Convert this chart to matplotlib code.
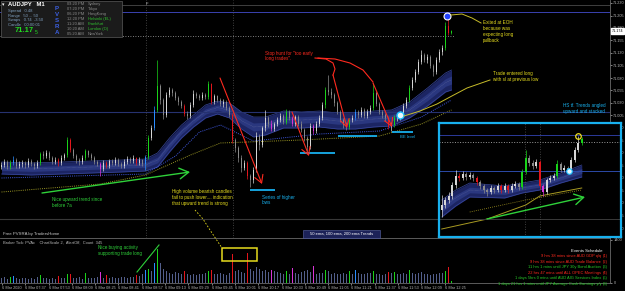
import numpy as np
import matplotlib
matplotlib.use("Agg")
import matplotlib.pyplot as plt
from matplotlib.patches import Rectangle

plt.rcParams["font.family"] = ["Liberation Sans", "DejaVu Sans"]

# ---------------------------------------------------------
# data (AUDJPY, 2-min candles)
# ---------------------------------------------------------
first_open = 70.902
close = [
    70.906, 70.912, 70.902, 70.910, 70.916, 70.904, 70.908, 70.910, 70.906, 70.914,
    70.908, 70.904, 70.910, 70.928, 70.924, 70.930, 70.920, 70.912, 70.916, 70.910,
    70.920, 70.926, 70.956, 70.936, 70.924, 70.916, 70.912, 70.920, 70.934, 70.926,
    70.920, 70.912, 70.908, 70.898, 70.910, 70.904, 70.914, 70.910, 70.916, 70.908,
    70.904, 70.912, 70.918, 70.914, 70.920, 70.910, 70.916, 70.908, 70.922, 70.960,
    70.980, 71.016, 71.064, 71.036, 71.006, 71.046, 71.056, 71.050, 71.040, 71.032,
    71.024, 71.008, 71.004, 71.026, 71.048, 71.044, 71.040, 71.046, 71.042, 71.068,
    71.032, 71.044, 71.036, 71.028, 71.032, 71.020, 71.006, 70.956, 70.940, 70.920,
    70.900, 70.910, 70.884, 70.876, 70.896, 70.964, 70.946, 70.980, 71.000, 70.988,
    70.978, 70.988, 70.996, 71.004, 70.992, 71.012, 71.000, 70.988, 71.002, 70.988,
    70.976, 70.960, 70.942, 70.984, 70.974, 70.988, 71.000, 71.026, 71.056, 71.052,
    71.046, 71.030, 71.012, 70.996, 70.986, 70.982, 70.996, 71.000, 71.012, 71.006,
    71.016, 71.004, 71.012, 71.020, 71.050, 71.028, 71.012, 71.006, 71.000, 70.982,
    70.986, 71.000, 71.000, 71.008, 71.024, 71.036, 71.060, 71.076, 71.092, 71.112,
    71.126, 71.116, 71.122, 71.104, 71.092, 71.116, 71.132, 71.140, 71.184, 71.170,
    71.174,
]
high = [
    70.912, 70.918, 70.916, 70.916, 70.924, 70.920, 70.914, 70.916, 70.914, 70.920,
    70.918, 70.912, 70.916, 70.932, 70.934, 70.936, 70.934, 70.924, 70.922, 70.920,
    70.926, 70.930, 70.962, 70.960, 70.940, 70.928, 70.920, 70.926, 70.938, 70.936,
    70.930, 70.924, 70.916, 70.912, 70.916, 70.914, 70.918, 70.918, 70.922, 70.920,
    70.912, 70.918, 70.924, 70.922, 70.926, 70.922, 70.922, 70.918, 70.926, 70.966,
    70.986, 71.024, 71.116, 71.068, 71.040, 71.052, 71.062, 71.060, 71.054, 71.044,
    71.036, 71.028, 71.014, 71.032, 71.056, 71.052, 71.048, 71.052, 71.050, 71.074,
    71.070, 71.048, 71.046, 71.040, 71.038, 71.036, 71.024, 71.010, 70.960, 70.944,
    70.926, 70.916, 70.914, 70.888, 70.902, 70.972, 70.968, 70.984, 71.016, 71.004,
    70.996, 70.992, 71.002, 71.010, 71.008, 71.018, 71.016, 71.004, 71.006, 71.006,
    70.994, 70.980, 70.964, 70.990, 70.988, 70.994, 71.006, 71.032, 71.062, 71.086,
    71.060, 71.050, 71.034, 71.016, 71.000, 70.992, 71.000, 71.006, 71.018, 71.016,
    71.022, 71.020, 71.018, 71.026, 71.070, 71.054, 71.032, 71.016, 71.010, 71.004,
    70.992, 71.006, 71.006, 71.014, 71.030, 71.042, 71.066, 71.082, 71.098, 71.118,
    71.136, 71.130, 71.128, 71.126, 71.108, 71.122, 71.138, 71.146, 71.192, 71.206,
    71.176,
]
low = [
    70.898, 70.902, 70.898, 70.898, 70.906, 70.900, 70.900, 70.902, 70.900, 70.902,
    70.904, 70.898, 70.900, 70.906, 70.918, 70.920, 70.916, 70.908, 70.908, 70.904,
    70.906, 70.916, 70.922, 70.932, 70.920, 70.910, 70.906, 70.908, 70.916, 70.922,
    70.916, 70.908, 70.904, 70.884, 70.894, 70.900, 70.900, 70.906, 70.906, 70.904,
    70.900, 70.900, 70.908, 70.910, 70.910, 70.906, 70.906, 70.904, 70.896, 70.918,
    70.956, 70.976, 71.012, 71.028, 70.998, 71.002, 71.042, 71.044, 71.036, 71.026,
    71.020, 71.004, 70.998, 71.000, 71.022, 71.040, 71.036, 71.036, 71.038, 71.038,
    71.028, 71.028, 71.032, 71.024, 71.022, 71.016, 71.002, 70.950, 70.932, 70.912,
    70.892, 70.896, 70.878, 70.862, 70.870, 70.892, 70.936, 70.942, 70.974, 70.982,
    70.974, 70.974, 70.984, 70.992, 70.988, 70.988, 70.996, 70.984, 70.984, 70.984,
    70.972, 70.954, 70.934, 70.938, 70.968, 70.970, 70.984, 70.996, 71.020, 71.046,
    71.040, 71.024, 71.008, 70.992, 70.980, 70.976, 70.978, 70.992, 70.996, 71.000,
    71.002, 71.000, 71.000, 71.008, 71.016, 71.024, 71.008, 71.000, 70.994, 70.978,
    70.974, 70.982, 70.994, 70.996, 71.004, 71.020, 71.032, 71.056, 71.072, 71.088,
    71.108, 71.112, 71.110, 71.100, 71.084, 71.088, 71.112, 71.126, 71.136, 71.166,
    71.168,
]
volume = [
    150, 180, 130, 200, 220, 160, 140, 170, 150, 120,
    160, 140, 180, 260, 150, 170, 140, 160, 130, 240,
    170, 150, 300, 280, 160, 150, 180, 140, 320, 170,
    150, 160, 190, 350, 170, 260, 160, 180, 150, 170,
    200, 180, 160, 190, 210, 270, 240, 300, 420, 470,
    380, 650, 1100, 640, 460, 380, 330, 300, 350, 320,
    280, 400, 300, 270, 300, 260, 300, 280, 320, 380,
    420, 300, 280, 320, 300, 260, 340, 950, 380, 420,
    360, 340, 980, 460, 400, 520, 440, 380, 420, 350,
    420, 380, 360, 330, 300, 400, 300, 480, 320, 280,
    350, 380, 420, 360, 560, 280, 320, 340, 420, 380,
    300, 320, 280, 300, 330, 290, 400, 300, 430, 320,
    300, 280, 310, 340, 400, 300, 280, 260, 300, 360,
    340, 350, 300, 280, 320, 300, 420, 340, 300, 320,
    360, 280, 300, 260, 300, 280, 320, 340, 380, 520,
    60,
]
# PVSRA classes: g/r climax bull/bear, b/m rising volume bull/bear
pvsra = {3: "g", 4: "b", 13: "g", 19: "r", 22: "g", 23: "r", 28: "g", 33: "m",
         35: "r", 45: "r", 48: "b", 49: "g", 51: "b", 52: "g", 61: "r", 69: "g",
         70: "r", 77: "r", 82: "r", 90: "m", 95: "g", 97: "m", 104: "m", 108: "g",
         116: "g", 118: "b", 124: "g", 129: "r", 131: "g", 136: "g", 148: "g",
         149: "r", 150: "g"}

band_idx = [0, 10, 20, 30, 40, 48, 52, 56, 60, 64, 68, 72, 76, 80, 84, 88, 94,
            100, 106, 112, 118, 124, 130, 136, 142, 148, 150]
band_top = [70.912, 70.910, 70.912, 70.914, 70.916, 70.918, 70.930, 70.960, 70.986,
            71.006, 71.026, 71.034, 71.030, 71.012, 71.002, 71.002, 71.014, 71.012,
            71.014, 71.010, 71.010, 71.014, 71.016, 71.032, 71.060, 71.090, 71.096]
band_bot = [70.888, 70.886, 70.888, 70.890, 70.892, 70.894, 70.902, 70.932, 70.960,
            70.982, 71.000, 71.008, 71.000, 70.978, 70.962, 70.966, 70.980, 70.980,
            70.982, 70.978, 70.978, 70.982, 70.984, 71.000, 71.024, 71.052, 71.056]
ema100_idx = [0, 48, 58, 66, 73, 84, 106, 126, 140, 150]
ema100 = [70.880, 70.888, 70.924, 70.972, 70.986, 70.954, 70.968, 70.974, 71.002, 71.036]
ema200_idx = [0, 33, 48, 63, 73, 100, 126, 140, 150]
ema200 = [70.852, 70.868, 70.886, 70.926, 70.950, 70.956, 70.964, 70.988, 71.016]

last_price = 71.174
lvl_top, lvl_eoh, lvl_prev_high, lvl_mid, lvl_low = 71.226, 71.212, 71.164, 71.012, 70.798
separators = [48.2, 77.2]

time_labels = ["6 Mar 2020", "6 Mar 07:37", "6 Mar 07:53", "6 Mar 08:09", "6 Mar 08:25",
               "6 Mar 08:41", "6 Mar 08:57", "6 Mar 09:13", "6 Mar 09:29", "6 Mar 09:45",
               "6 Mar 10:01", "6 Mar 10:17", "6 Mar 10:33", "6 Mar 10:49", "6 Mar 11:05",
               "6 Mar 11:21", "6 Mar 11:37", "6 Mar 11:53", "6 Mar 12:09", "6 Mar 12:25"]

# higher timeframe inset
inset_open0 = 70.816
inset_close = [70.826, 70.836, 70.844, 70.866, 70.884, 70.880, 70.888, 70.882, 70.886, 70.880,
               70.872, 70.864, 70.856, 70.852, 70.860, 70.856, 70.864, 70.856, 70.864, 70.856,
               70.864, 70.868, 70.862, 70.892, 70.920, 70.910, 70.904, 70.912, 70.864, 70.852,
               70.876, 70.880, 70.884, 70.908, 70.896, 70.900, 70.896, 70.916, 70.936, 70.950,
               70.958]
inset_high = [70.846, 70.842, 70.852, 70.872, 70.896, 70.890, 70.894, 70.892, 70.892, 70.890,
              70.884, 70.876, 70.868, 70.860, 70.866, 70.864, 70.870, 70.868, 70.870, 70.868,
              70.870, 70.874, 70.872, 70.898, 70.936, 70.926, 70.916, 70.918, 70.916, 70.868,
              70.880, 70.886, 70.890, 70.916, 70.912, 70.906, 70.904, 70.922, 70.942, 70.964,
              70.962]
inset_low = [70.802, 70.820, 70.830, 70.838, 70.860, 70.874, 70.876, 70.876, 70.878, 70.874,
             70.866, 70.858, 70.850, 70.844, 70.848, 70.850, 70.852, 70.850, 70.852, 70.850,
             70.852, 70.860, 70.856, 70.858, 70.888, 70.904, 70.898, 70.900, 70.858, 70.844,
             70.848, 70.872, 70.876, 70.880, 70.892, 70.892, 70.890, 70.892, 70.912, 70.932,
             70.946]
inset_pvsra = {5: "r", 10: "r", 17: "r", 19: "r", 23: "g", 24: "g", 28: "r", 29: "m",
               33: "g", 40: "g"}
inset_band_idx = [0, 4, 8, 18, 23, 28, 34, 40]
inset_band_top = [70.836, 70.856, 70.870, 70.864, 70.870, 70.876, 70.890, 70.906]
inset_band_bot = [70.802, 70.824, 70.842, 70.840, 70.850, 70.856, 70.870, 70.882]
inset_ema_idx = [0, 13, 24, 28, 40]
inset_ema = [70.778, 70.798, 70.826, 70.844, 70.860]
inset_ema2_idx = [8, 24, 40]
inset_ema2 = [70.812, 70.836, 70.856]
inset_levels = [(70.966, "#2c3a9a", "-"), (70.952, "#9a9a9a", ":"),
                (70.894, "#2c4aa8", "-"), (70.798, "#3a3a3a", "-")]

# ---------------------------------------------------------
# colours
# ---------------------------------------------------------
PV = {"g": "#19d219", "r": "#e3161c", "b": "#2a8cff", "m": "#d834d8"}
UP, DOWN, VOL = "#d6d6d6", "#8a8a8a", "#535f8c"
GREEN, RED, YEL, CYAN = "#2fd13a", "#ff2a1f", "#e6dc1e", "#18b0ee"

W, H = 625, 291


def box(x0, y0, x1, y1):
    return [x0 / W, 1 - y1 / H, (x1 - x0) / W, (y1 - y0) / H]


def draw_candles(ax, o, c, h, l, classes, width):
    idx = np.arange(len(c))
    cols = []
    for i in idx:
        if i in classes:
            cols.append(PV[classes[i]])
        else:
            cols.append(UP if c[i] >= o[i] else DOWN)
    ax.vlines(idx, l, h, colors=cols, lw=0.5, zorder=4)
    ax.bar(idx, np.maximum(np.abs(c - o), 0.0015), bottom=np.minimum(o, c),
           width=width, color=cols, linewidth=0, zorder=4)
    return cols


def draw_band(ax, bi, bt, bb):
    bi, bt, bb = np.array(bi), np.array(bt), np.array(bb)
    mid = (bt + bb) / 2
    ax.fill_between(bi, bb, bt, color="#1c2563", lw=0, zorder=2)
    ax.fill_between(bi, mid - (bt - bb) * 0.2, mid + (bt - bb) * 0.2,
                    color="#2a377f", lw=0, zorder=2)
    ax.plot(bi, bt, color="#38479c", lw=0.5, zorder=2)
    ax.plot(bi, bb, color="#38479c", lw=0.5, zorder=2)
    ax.plot(bi, mid, color="#6e76a4", lw=0.35, ls=(0, (1, 1.5)), zorder=2)


fig = plt.figure(figsize=(6.25, 2.91), dpi=100, facecolor="black")

# ---------------- price panel ----------------
ax = fig.add_axes(box(0, 0, 610, 238), zorder=1)
ax.set_facecolor("black")
c = np.array(close)
o = np.concatenate([[first_open], c[:-1]])
cols = draw_candles(ax, o, c, np.array(high), np.array(low), pvsra, 0.62)
draw_band(ax, band_idx, band_top, band_bot)
ax.plot(ema100_idx, ema100, color="#3f58e0", lw=0.7, ls=(0, (1, 1.2)), zorder=2)
ax.plot(ema200_idx, ema200, color="#9a9624", lw=0.7, ls=(0, (1, 1.2)), zorder=2)

ax.axhline(lvl_top, color="#4a4a4a", lw=0.6)
ax.axhline(lvl_eoh, color="#3a42b0", lw=0.7)
ax.axhline(lvl_prev_high, xmax=455 / 610, color="#a8a8a8", lw=0.6, ls=(0, (1, 2)))
ax.axhline(lvl_mid, color="#263270", lw=0.8)
ax.axhline(lvl_low, color="#383838", lw=0.8)
for s in separators:
    ax.axvline(s, color="#555555", lw=0.6, ls=(0, (1, 2)))

ax.set_xlim(-0.5, 610 / 3 - 0.5)
ax.set_ylim(70.760, 71.236)
ax.set_xticks([])
ax.yaxis.tick_right()
ticks = [71.230 - 0.025 * k for k in range(19)]
ax.set_yticks(ticks)
ax.set_yticklabels([f"{t:.3f}" for t in ticks])
ax.tick_params(axis="y", colors="#b8b8b8", labelsize=2.7, length=1.5, width=0.5, pad=0.8)
for side in ["left", "top"]:
    ax.spines[side].set_visible(False)
for side in ["right", "bottom"]:
    ax.spines[side].set_color("#6a6a6a")
    ax.spines[side].set_linewidth(0.6)
ax.text(1.003, last_price, f"{last_price:.3f}", transform=ax.get_yaxis_transform(),
        fontsize=2.7, color="black", va="center", ha="left", clip_on=False,
        bbox=dict(boxstyle="square,pad=0.15", fc="white", ec="white"))

# ---------------- volume panel ----------------
axv = fig.add_axes(box(0, 239, 610, 283), zorder=1)
axv.set_facecolor("black")
vcols = [PV[pvsra[i]] if i in pvsra else VOL for i in range(len(volume))]
axv.bar(np.arange(len(volume)), volume, width=0.55, color=vcols, linewidth=0)
axv.set_xlim(-0.5, 610 / 3 - 0.5)
axv.set_ylim(0, 1430)
axv.yaxis.tick_right()
axv.set_yticks([0, 1400])
axv.set_yticklabels(["0", "1400"])
tick_pos = [(2 + 23.3 * k - 1.5) / 3 for k in range(len(time_labels))]
axv.set_xticks(tick_pos)
axv.set_xticklabels(time_labels)
for lab in axv.get_xticklabels():
    lab.set_ha("left")
axv.tick_params(colors="#b0b0b0", labelsize=2.8, length=1.5, width=0.5, pad=1)
for side in ["left", "top"]:
    axv.spines[side].set_visible(False)
for side in ["right", "bottom"]:
    axv.spines[side].set_color("#6a6a6a")
    axv.spines[side].set_linewidth(0.6)

# ---------------- higher timeframe inset ----------------
axi = fig.add_axes(box(439, 123, 621, 237), zorder=3)
axi.set_facecolor("black")
ic = np.array(inset_close)
io = np.concatenate([[inset_open0], ic[:-1]])
draw_band(axi, inset_band_idx, inset_band_top, inset_band_bot)
draw_candles(axi, io, ic, np.array(inset_high), np.array(inset_low), inset_pvsra, 0.6)
axi.plot(inset_ema_idx, inset_ema, color="#a89a22", lw=0.7, zorder=2)
axi.plot(inset_ema2_idx, inset_ema2, color="#a89a22", lw=0.6, ls=(0, (1, 1.5)), zorder=2)
for lv, col, ls in inset_levels:
    axi.axhline(lv, color=col, lw=0.7, ls=ls)
for s in [23.8, 28.1]:
    axi.axvline(s, color="#505050", lw=0.6, ls=(0, (1, 2)))
axi.set_xlim(-0.786, 182 / 3.5 - 0.786)
axi.set_ylim(70.762, 70.990)
axi.set_xticks([])
axi.set_yticks([])
for sp in axi.spines.values():
    sp.set_color(CYAN)
    sp.set_linewidth(1.6)

# ---------------- overlay: labels and hand-drawn notes (pixel space) ----------------
ov = fig.add_axes([0, 0, 1, 1], zorder=10)
ov.set_xlim(0, W)
ov.set_ylim(H, 0)
ov.axis("off")
ov.patch.set_alpha(0)


def note(x, y, s, color, fs=3.3, **kw):
    ov.text(x, y, s, color=color, fontsize=fs, va="top", ha=kw.pop("ha", "left"),
            linespacing=1.2, **kw)


def arrow(p0, p1, color, lw=0.8, ms=9):
    ov.annotate("", xy=p1, xytext=p0,
                arrowprops=dict(arrowstyle="->,head_length=0.6,head_width=0.35",
                                color=color, lw=lw, shrinkA=0, shrinkB=0,
                                mutation_scale=ms))


# info panel
ov.add_patch(Rectangle((0.5, 0.5), 121.5, 36.5, fc="#1b1b1b", ec="#5a5a5a", lw=0.5))
ov.text(2, 5, "▾", color="white", fontsize=3.5, va="center")
ov.text(8, 5, "AUDJPY   M1", color="white", fontsize=4.2, fontweight="bold", va="center")
for k, s in enumerate(["Spread   0.48", "Range   50 ... 50", "Swaps   0.74  -3.50",
                       "Candle   00:00:01"]):
    ov.text(8, 11 + 4.7 * k, s, color="#7f9fbf", fontsize=3.0, va="center")
ov.text(15, 31, "71.17", color="#22dd22", fontsize=5.4, fontweight="bold", va="center")
ov.text(35, 32, "5", color="#22dd22", fontsize=3.6, va="center")
for k, ch in enumerate("PVSRA"):
    ov.text(57, 8 + 6 * k, ch, color="#3b5fe0", fontsize=4.4, fontweight="bold",
            ha="center", va="center")
sessions = [("09:20 PM", "Sydney", "#8a8a8a"), ("07:20 PM", "Tokyo", "#8a8a8a"),
            ("06:20 PM", "HongKong", "#8a8a8a"), ("12:20 PM", "Helsinki (EL)", "#2fbf2f"),
            ("11:20 AM", "Frankfurt", "#2fbf2f"), ("10:20 AM", "London (O)", "#2fbf2f"),
            ("05:20 AM", "NewYork", "#8a8a8a")]
for k, (t, city, col) in enumerate(sessions):
    ov.text(67, 4 + 5 * k, t, color="#8a8a8a", fontsize=2.9, va="center")
    ov.text(88, 4 + 5 * k, city, color=col, fontsize=2.9, va="center")
ov.text(146, 4, "F", color="#cccccc", fontsize=3.0, va="center")

# trade entry / exit
ov.plot(447, 16, "o", ms=5, mfc="#2242ff", mec="white", mew=0.8)
ov.plot([451, 462, 472, 481], [15, 14, 18, 23], color="#c8bd2a", lw=0.7)
note(483, 20.5, "Exited at EOH\nbecause was\nexpecting long\npullback", YEL)
ov.plot(400, 115, "o", ms=5, mfc="#e8f8ff", mec="#18c0ff", mew=1.0)
ov.plot([404, 420, 437, 450, 467, 490], [116, 111, 104, 97, 88, 80], color="#c8bd2a", lw=0.7)
note(493, 71.5, "Trade entered long\nwith sl at previous low", YEL)

# stop hunt arrows
note(265, 50.5, 'Stop hunt for "too early\nlong trades".', RED)
ov.plot([315, 326, 333, 335, 333], [58, 59, 63, 69, 75], color=RED, lw=0.8)
ov.plot([318, 335, 350, 363, 373], [58, 59, 63, 70, 82], color=RED, lw=0.8)
arrow((220, 78), (262, 184), RED)
arrow((292, 112), (309, 156), RED)
arrow((333, 75), (347, 128), RED)
arrow((373, 83), (392, 127), RED)

# higher lows
for x0, x1, y in [(250, 275, 190), (300, 335, 153), (338, 377, 136), (392, 413, 132)]:
    ov.plot([x0, x1], [y, y], color=CYAN, lw=1.3, solid_capstyle="butt")
note(262, 194.5, "Series of higher\nlows", CYAN)
note(400, 134.5, "BE level", CYAN, fs=3.0)

# trend notes
arrow((42, 193), (190, 172), GREEN, lw=1.0, ms=11)
note(52, 197.5, "Nice upward trend since\nbefore 7a", GREEN)
note(172, 189.5, "High volume bearish candles\nfail to push lower.... indication\n"
     "that upward trend is strong", YEL)
ov.plot([195, 203, 210, 216, 222], [210, 219, 230, 239, 248], color=YEL, lw=0.6,
        ls=(0, (2, 2)))
ov.add_patch(Rectangle((222, 248), 35, 13, fc="none", ec=YEL, lw=1.1))
ov.plot([137, 159], [272, 245], color=GREEN, lw=0.8)
note(98, 245.5, "Nice buying activity\nsupporting trade long", GREEN)

# inset notes
note(563, 103.5, "HS tf. Trends angled\nupward and stacked", CYAN)
ov.plot(578, 136, "o", ms=4, mfc="none", mec="#f0e020", mew=0.9)
ov.plot(569, 171, "o", ms=4, mfc="#e8f8ff", mec="#18c0ff", mew=0.8)
arrow((487, 219), (585, 197), GREEN, lw=1.0, ms=11)

# indicator labels
ov.text(3, 234, "Free PVSRA by TradersHome", color="#c8c8c8", fontsize=3.1, va="center")
ov.add_patch(Rectangle((303, 230), 77, 7.5, fc="#1c2258", ec="#5a66a8", lw=0.4))
ov.text(341.5, 233.8, "50 ema, 100 ema, 200 ema Trends", color="white", fontsize=3.0,
        ha="center", va="center")
ov.text(3, 242.5, "Broker Tick: PVAc    ChartScale 2,  AlertOff,  Count  345",
        color="#b8b8b8", fontsize=2.9, va="center")

# events schedule
ov.text(603, 251, "Events Schedule", color="white", fontsize=3.1, ha="right", va="center")
events = [("9 hrs 38 mins since AUD GDP q/q", RED),
          ("9 hrs 38 mins since AUD Trade Balance", RED),
          ("11 hrs 1 mins until JPY 30y Bond Auction", "#28c828"),
          ("22 hrs 47 mins until ALL OPEC Meetings", RED),
          ("1 days 5hrs 0 mins until AUD AIG Services Index", "#28c828"),
          ("1 days 21 hrs 1 mins until JPY Average Cash Earnings y/y", "#28c828")]
for k, (s, col) in enumerate(events):
    y = 256.5 + 5.4 * k
    ov.text(601, y, s, color=col, fontsize=2.9, ha="right", va="center")
    ov.text(603, y, f"({k + 1})", color=col, fontsize=2.9, ha="left", va="center")

fig.savefig("out.png", dpi=100, facecolor="black")
